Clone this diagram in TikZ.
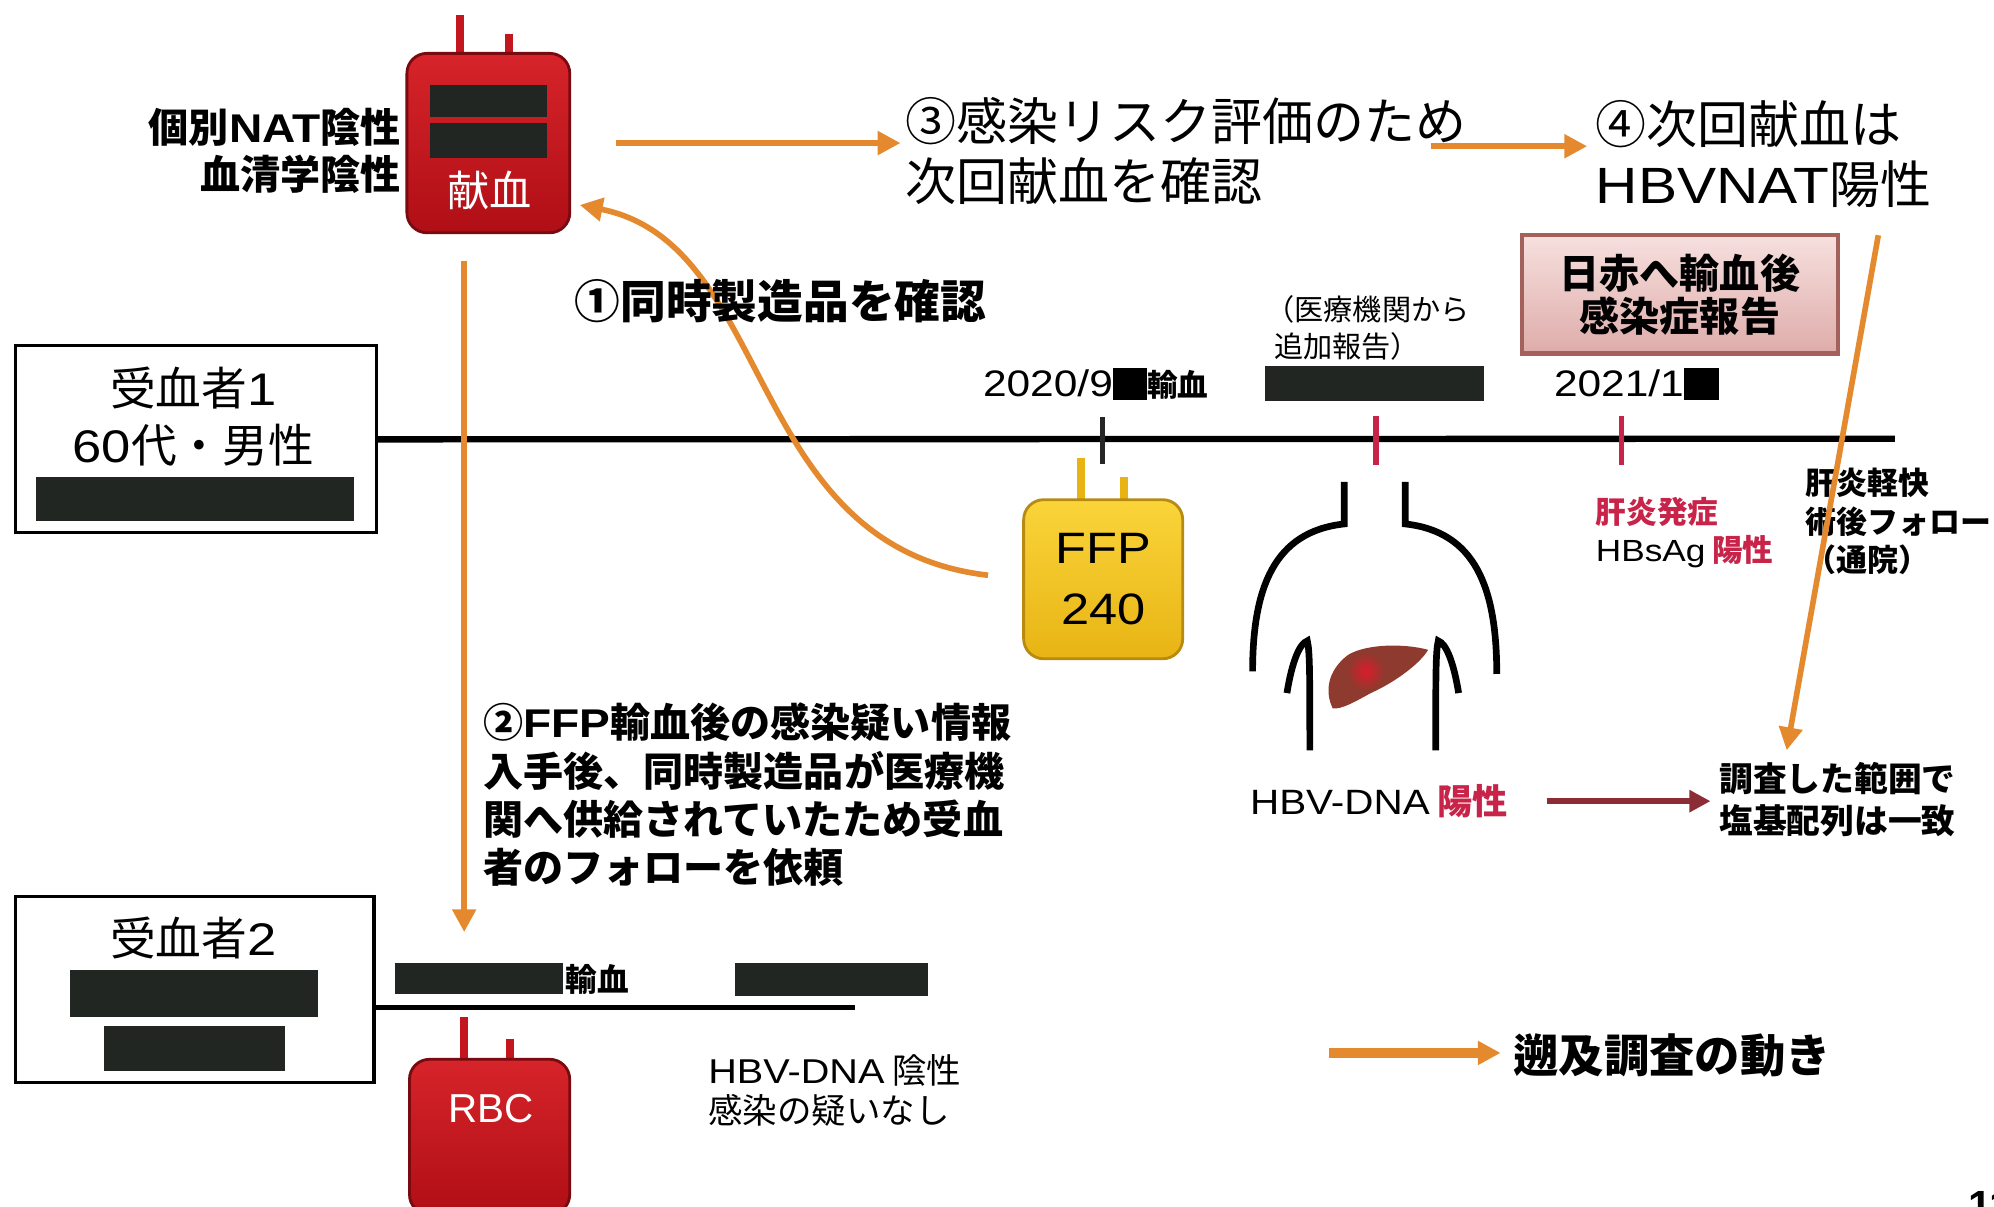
\documentclass[tikz,border=0pt]{standalone}
\usepackage{fontspec}
\setmainfont{Noto Sans CJK JP}
\newfontfamily\latw{Liberation Sans}[FakeStretch=1.15]
\newfontfamily\latn{Liberation Sans}
\usetikzlibrary{arrows.meta}

\definecolor{orangec}{RGB}{228,137,46}
\definecolor{bagred}{RGB}{196,22,30}
\definecolor{bagredtop}{RGB}{214,36,42}
\definecolor{bagredbot}{RGB}{176,14,22}
\definecolor{bagredline}{RGB}{120,10,16}
\definecolor{ffptop}{RGB}{250,212,58}
\definecolor{ffpbot}{RGB}{232,180,20}
\definecolor{ffpline}{RGB}{184,138,16}
\definecolor{crimson}{RGB}{200,36,74}
\definecolor{redact}{RGB}{34,38,34}
\definecolor{pinktop}{RGB}{246,224,222}
\definecolor{pinkbot}{RGB}{222,172,170}
\definecolor{pinkline}{RGB}{164,96,90}
\definecolor{darkarrow}{RGB}{140,44,52}
\definecolor{livercol}{RGB}{142,58,46}
\definecolor{liverred}{RGB}{218,28,44}

\newcommand\fsz[2]{\fontsize{#1}{#2}\selectfont}
\newcommand\lw[1]{{\latw #1}}

\begin{document}
\begin{tikzpicture}[x=0.012717cm, y=-0.012717cm,
  txt/.style={inner sep=0pt, outer sep=0pt, text=black},
  orangearrow/.style={draw=orangec, line width=1.6pt, -{Triangle[length=6.5pt,width=6.5pt]}},
  bagbody/.style={rounded corners=0.2cm, line width=0.8pt, inner sep=0pt},
  redbag/.style={bagbody, draw=bagredline, top color=bagredtop, bottom color=bagredbot},
  yellowbag/.style={bagbody, draw=ffpline, top color=ffptop, bottom color=ffpbot},
  redtube/.style={draw=bagred, line width=2.2pt},
  yellowtube/.style={draw=ffpbot, line width=2.2pt},
  recbox/.style={draw=black, line width=0.9pt, fill=white, inner sep=0pt},
  redactbar/.style={fill=redact},
  tickblack/.style={draw=black!85, line width=1.6pt},
  tickred/.style={draw=crimson, line width=1.6pt},
  outline/.style={draw=black, line width=1.9pt},
]
\useasboundingbox (0,0) rectangle (1568,949);
\clip (0,0) rectangle (1568,949);
\fill[white] (0,0) rectangle (1568,949);

% ---------- donated blood bag (top) ----------
\draw[redtube] (362,12) -- (362,46);
\draw[redtube] (400,27) -- (400,46);
\node[redbag, minimum width=1.628cm, minimum height=1.793cm] (donbag) at (384,112.5) {};
\fill[redactbar] (338,67) rectangle (430,92);
\fill[redactbar] (338,97) rectangle (430,124);
\node[txt, text=white, font=\fsz{12}{14}] (donlabel) at (385,150) {献血};
\node[txt, anchor=east, align=right, font=\bfseries\fsz{11.4}{13.4}] (donnote) at (315,118.5) {個別\lw{NAT}陰性\\血清学陰性};

% ---------- steps 3 and 4 ----------
\node[txt, anchor=west, align=left, font=\fsz{14.5}{17}] (step3) at (712,118.5) {③感染リスク評価のため\\次回献血を確認};
\node[txt, anchor=west, align=left, font=\fsz{14.5}{17}] (step4) at (1255,121) {④次回献血は\\\lw{HBVNAT}陽性};
\draw[orangearrow, shorten <=12.7pt, shorten >=1.4pt] (donbag.east) -- (donbag.east -| step3.west);
\coordinate (a4s) at (1125,115);
\draw[orangearrow, shorten >=2.5pt] (a4s) -- (a4s -| step4.west);

% ---------- report box ----------
\node[draw=pinkline, line width=1.2pt, top color=pinktop, bottom color=pinkbot,
      minimum width=3.154cm, minimum height=1.183cm, inner sep=0pt,
      align=center, font=\bfseries\fsz{11.4}{12.3}] (report) at (1321,231.5) {日赤へ輸血後\\感染症報告};

% ---------- recipient 1 and its time line ----------
\node[recbox, minimum width=3.612cm, minimum height=1.869cm] (rec1) at (154,345.5) {};
\node[txt, font=\fsz{13}{15}] (rec1name) at (152,305) {受血者\lw{1}};
\node[txt, font=\fsz{13}{15}] (rec1age) at (152,350) {\lw{60}代・男性};
\fill[redactbar] (28,375) rectangle (278,410);

\coordinate (tlend) at (1490,345);
\draw[line width=1.8pt] (rec1.east) -- (tlend);
\draw[tickblack] (867,328) -- (867,365);
\draw[tickred] (1082,327) -- (1082,366);
\draw[tickred] (1275,327) -- (1275,366);

\node[txt, anchor=west, font=\fsz{10.5}{12}] (date1) at (773,302) {\lw{2020/9}\rule[-1pt]{9.8pt}{9pt}{\bfseries\fsz{8.7}{10}輸血}};
\node[txt, anchor=west, align=left, font=\fsz{8.3}{10.5}] (addreport) at (995,257.5) {（医療機関から\\\hspace{0.3em}追加報告）};
\fill[redactbar] (995,288) rectangle (1167,315);
\node[txt, anchor=west, font=\fsz{10.5}{12}] (date2) at (1222,302) {\lw{2021/1}\rule[-1pt]{10pt}{9pt}};

\node[txt, anchor=west, align=left, font=\fsz{8.7}{10.9}] (onset) at (1255,419) {\textcolor{crimson}{\bfseries 肝炎発症}\\\lw{HBsAg} \textcolor{crimson}{\bfseries 陽性}};
\node[txt, anchor=west, align=left, font=\bfseries\fsz{8.8}{10.9}] (recov) at (1420,410) {肝炎軽快\\術後フォロー\\（通院）};

% ---------- FFP bag and step 1 ----------
\draw[yellowtube] (850,360) -- (850,396);
\draw[yellowtube] (884,375) -- (884,396);
\node[yellowbag, minimum width=1.59cm, minimum height=1.59cm, align=center, font=\latw\fsz{12.5}{17.5}] (ffp) at (867.5,455.5) {FFP\\240};
\draw[orangearrow, shorten <=9.8pt, shorten >=2.5pt] (ffp.west) .. controls (585,430) and (610,192) .. (donbag.-36.6);
\node[txt, anchor=west, font=\bfseries\fsz{13}{15}] (step1) at (452,237) {①同時製造品を確認};

% ---------- torso with liver ----------
\draw[outline] (1057,379) -- (1057,412) .. controls (1002,418) and (985,462) .. (985,528);
\draw[outline] (1105,379) -- (1105,412) .. controls (1160,418) and (1177,462) .. (1177,530);
\draw[outline] (1012,545) .. controls (1016,520) and (1022,506) .. (1028,504) .. controls (1030,512) and (1030,530) .. (1030,590);
\draw[outline] (1147,545) .. controls (1143,520) and (1137,506) .. (1131,504) .. controls (1129,512) and (1129,530) .. (1129,590);
\fill[livercol] (1048,557) .. controls (1042,545) and (1043,528) .. (1060,515)
  .. controls (1075,506) and (1105,506) .. (1123,511)
  .. controls (1118,520) and (1100,535) .. (1078,545)
  .. controls (1065,552) and (1055,558) .. (1048,557) -- cycle;
\shade[inner color=liverred, outer color=livercol] (1074,528) circle (15);

\node[txt, anchor=west, font=\fsz{10}{12}] (hbvpos) at (983,630) {\lw{HBV-DNA} \textcolor{crimson}{\bfseries 陽性}};
\node[txt, anchor=west, align=left, font=\bfseries\fsz{9.6}{11.9}] (seq) at (1352,628.5) {調査した範囲で\\塩基配列は一致};
\draw[draw=darkarrow, line width=1.6pt, -{Triangle[length=6pt,width=6pt]}, shorten <=11pt, shorten >=2.5pt] (hbvpos.east) -- (hbvpos.east -| seq.west);
\coordinate (a5s) at (1477,185);
\coordinate (a5e) at (1405,590);
\draw[orangearrow] (a5s) -- (a5e);

% ---------- step 2 ----------
\coordinate (a2s) at (365,205);
\coordinate (a2e) at (365,733);
\draw[orangearrow] (a2s) -- (a2e);
\node[txt, anchor=west, align=left, font=\bfseries\fsz{11.4}{13.75}] (step2) at (380,625) {②\lw{FFP}輸血後の感染疑い情報\\入手後、同時製造品が医療機\\関へ供給されていたため受血\\者のフォローを依頼};

% ---------- recipient 2 ----------
\node[recbox, minimum width=3.586cm, minimum height=1.857cm] (rec2) at (153,778) {};
\node[txt, font=\fsz{13}{15}] (rec2name) at (152,738) {受血者\lw{2}};
\fill[redactbar] (55,763) rectangle (250,800);
\fill[redactbar] (82,807) rectangle (224,842);
\coordinate (tl2end) at (672,792);
\draw[line width=1.4pt] (rec2.east |- tl2end) -- (tl2end);
\fill[redactbar] (311,757) rectangle (443,782);
\node[txt, anchor=west, font=\bfseries\fsz{9}{11}] (rec2tx) at (445,770) {輸血};
\fill[redactbar] (578,757) rectangle (730,783);

\draw[redtube] (365,800) -- (365,837);
\draw[redtube] (401,817) -- (401,837);
\node[redbag, minimum width=1.602cm, minimum height=1.551cm] (rbc) at (385,894) {};
\node[txt, text=white, font=\latn\fsz{11.5}{14}] (rbclabel) at (386,872) {RBC};
\node[txt, anchor=west, align=left, font=\fsz{9.8}{11.2}] (neg) at (557,857.5) {\lw{HBV-DNA} 陰性\\感染の疑いなし};

% ---------- legend ----------
\node[txt, anchor=west, font=\bfseries\fsz{12.9}{15}] (legend) at (1190,830) {遡及調査の動き};
\coordinate (legs) at (1045,828);
\draw[orangearrow, line width=2.6pt, shorten >=3.6pt] (legs) -- (legs -| legend.west);

\node[txt, anchor=north west, font=\latn\bfseries\fsz{12}{14}] (pageno) at (1548,937) {11};
\end{tikzpicture}
\end{document}
